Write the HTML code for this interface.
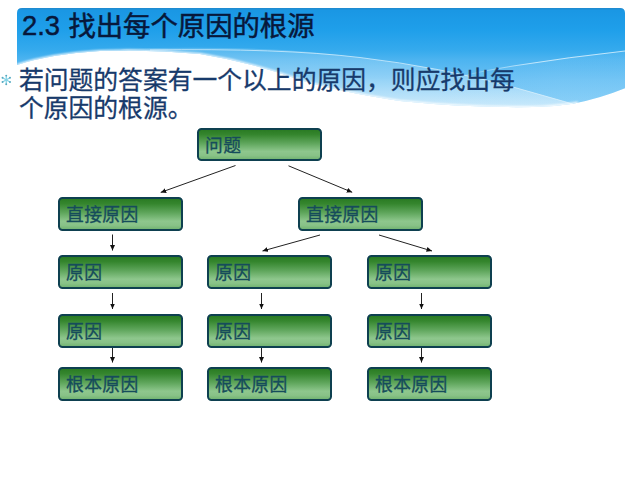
<!DOCTYPE html>
<html lang="zh-CN">
<head>
<meta charset="utf-8">
<title>2.3 找出每个原因的根源</title>
<style>
  html, body { margin: 0; padding: 0; }
  body {
    width: 640px; height: 480px; overflow: hidden; position: relative;
    background: #ffffff;
    font-family: "Liberation Sans", "Noto Sans CJK SC", sans-serif;
  }
  #bg { position: absolute; left: 0; top: 0; width: 640px; height: 480px; }
  .title {
    position: absolute; left: 22px; top: 11.3px; margin: 0;
    font-size: 27.35px; line-height: 32px; font-weight: 400; -webkit-text-stroke: 0.5px #07183b;
    color: #07183b; white-space: nowrap; word-spacing: 0.8px;
  }
  .title .num { position: relative; top: -1.4px;
  }
  .body {
    position: absolute; left: 18.9px; top: 66.5px; margin: 0;
    font-size: 24.8px; line-height: 28.5px; font-weight: 400; -webkit-text-stroke: 0.3px #173a6b; color: #173a6b; white-space: nowrap;
  }
  .box {
    position: absolute; box-sizing: border-box;
    width: 124.5px; height: 33.6px;
    border: 2px solid #0e4050; border-radius: 4.5px;
    background: linear-gradient(to bottom, #2a7b23 0%, #35862e 16%, #5fa65c 46%, #8ec78d 74%, #88c287 88%, #74b573 100%);
    color: #164c5b; font-size: 17.8px; letter-spacing: 0.35px; line-height: 32px; -webkit-text-stroke: 0.3px #164c5b;
    padding-left: 6px; white-space: nowrap;
  }
</style>
</head>
<body>
<svg id="bg" width="640" height="480" viewBox="0 0 640 480">
  <defs>
    <linearGradient id="sky" gradientUnits="userSpaceOnUse" x1="0" y1="8" x2="0" y2="108">
      <stop offset="0" stop-color="#2088cc"/>
      <stop offset="0.025" stop-color="#1a97e4"/>
      <stop offset="0.22" stop-color="#1f9fea"/>
      <stop offset="0.42" stop-color="#35aaed"/>
      <stop offset="0.52" stop-color="#4db4f0"/>
      <stop offset="0.72" stop-color="#6bc1f4"/>
      <stop offset="0.92" stop-color="#80cbf6"/>
      <stop offset="1" stop-color="#8ad0f7"/>
    </linearGradient>
    <linearGradient id="fadeL" gradientUnits="userSpaceOnUse" x1="440" y1="0" x2="535" y2="0">
      <stop offset="0" stop-color="#e4f5fe" stop-opacity="0"/>
      <stop offset="0.7" stop-color="#e4f5fe" stop-opacity="0.7"/>
      <stop offset="1" stop-color="#e4f5fe" stop-opacity="1"/>
    </linearGradient>
    <linearGradient id="fadeB" gradientUnits="userSpaceOnUse" x1="430" y1="0" x2="560" y2="0">
      <stop offset="0" stop-color="#a8dcfb" stop-opacity="0"/>
      <stop offset="1" stop-color="#a8dcfb" stop-opacity="1"/>
    </linearGradient>
    <linearGradient id="band1" gradientUnits="userSpaceOnUse" x1="0" y1="46" x2="0" y2="108">
      <stop offset="0" stop-color="#ffffff" stop-opacity="0.16"/>
      <stop offset="0.5" stop-color="#ffffff" stop-opacity="0.26"/>
      <stop offset="1" stop-color="#ffffff" stop-opacity="0.58"/>
    </linearGradient>
    <filter id="soft" x="-5%" y="-50%" width="110%" height="200%"><feGaussianBlur stdDeviation="1.1"/></filter>
    <clipPath id="panel">
      <path d="M17 13 Q17 8 22 8 L620 8 Q625 8 625 13 L625 88.3 Q600 98.5 573 103.8 Q553 107 533 107 Q470 108 400 101 Q340 92 300 80 Q250 62 200 54 Q150 49 100 51 Q50 54 17 65 Z"/>
    </clipPath>
    <marker id="ah" viewBox="0 0 5.5 5" refX="5.5" refY="2.5" markerWidth="5.5" markerHeight="5" orient="auto" markerUnits="userSpaceOnUse">
      <path d="M0 0 L5.5 2.5 L0 5 Z" fill="#111"/>
    </marker>
  </defs>
  <g clip-path="url(#panel)">
    <rect x="0" y="0" width="640" height="120" fill="url(#sky)"/>
    <!-- lighter wave bands -->
    <path d="M120 49 Q260 44 360 57.5 Q450 69 513 87 Q560 100 600 112 L300 120 Q230 70 120 49 Z" fill="url(#band1)"/>
    <path d="M400 93 Q470 72 513 66 Q570 56 625 51 L625 120 L400 120 Z" fill="url(#fadeB)" opacity="0.14"/>
    <!-- thin wave lines -->
    <path d="M150 50 Q280 48 360 57.5 Q440 67 513 87 Q545 96 573 104" fill="none" stroke="#e4f5fe" stroke-width="0.9" opacity="0.75"/>
    <path d="M400 93 Q460 74 513 66 Q570 57 625 51" fill="none" stroke="url(#fadeL)" stroke-width="0.9" opacity="0.85"/>
    <!-- soft lower edge -->
    <path d="M578 103 Q553 107.5 533 107.5 Q470 108.5 400 101.5 Q340 92.5 300 80.5 Q250 62.5 200 54.5 Q150 49.5 100 51.5 Q50 54.5 17 65.5" fill="none" stroke="#ffffff" stroke-width="3" filter="url(#soft)" opacity="0.9"/>
  </g>
  <!-- bullet -->
  <g stroke="#84d3e6" stroke-width="1.25" stroke-linecap="round"><line x1="6.25" y1="75.60" x2="6.25" y2="84.20"/><line x1="2.53" y1="77.75" x2="9.97" y2="82.05"/><line x1="9.97" y1="77.75" x2="2.53" y2="82.05"/></g>
  <g fill="#58a9bf"><circle cx="6.25" cy="75.60" r="0.95"/><circle cx="6.25" cy="84.20" r="0.95"/><circle cx="2.53" cy="77.75" r="0.95"/><circle cx="9.97" cy="82.05" r="0.95"/><circle cx="9.97" cy="77.75" r="0.95"/><circle cx="2.53" cy="82.05" r="0.95"/></g>
  <!-- arrows -->
  <g stroke="#222" stroke-width="1" fill="none">
    <line x1="235.5" y1="165.5" x2="160.7" y2="192.4" marker-end="url(#ah)"/>
    <line x1="288.5" y1="165.8" x2="352.2" y2="192.3" marker-end="url(#ah)"/>
    <line x1="320" y1="235" x2="262.5" y2="251" marker-end="url(#ah)"/>
    <line x1="379" y1="235" x2="432" y2="251" marker-end="url(#ah)"/>
    <line x1="112.5" y1="234.5" x2="112.5" y2="250.5" marker-end="url(#ah)"/>
    <line x1="112.5" y1="293" x2="112.5" y2="309" marker-end="url(#ah)"/>
    <line x1="112.5" y1="347.5" x2="112.5" y2="362.5" marker-end="url(#ah)"/>
    <line x1="261.5" y1="293" x2="261.5" y2="309" marker-end="url(#ah)"/>
    <line x1="261.5" y1="347.5" x2="261.5" y2="362.5" marker-end="url(#ah)"/>
    <line x1="421.5" y1="293" x2="421.5" y2="309" marker-end="url(#ah)"/>
    <line x1="421.5" y1="347.5" x2="421.5" y2="362.5" marker-end="url(#ah)"/>
  </g>
</svg>

<h1 class="title"><span class="num">2.3</span> 找出每个原因的根源</h1>
<p class="body">若问题的答案有一个以上的原因，则应找出每<br>个原因的根源。</p>

<div class="box" style="left:197px; top:127.5px;">问题</div>

<div class="box" style="left:58px;  top:197px;">直接原因</div>
<div class="box" style="left:298px; top:197px;">直接原因</div>

<div class="box" style="left:58px;  top:255px;">原因</div>
<div class="box" style="left:207px; top:255px;">原因</div>
<div class="box" style="left:367px; top:255px;">原因</div>

<div class="box" style="left:58px;  top:314px;">原因</div>
<div class="box" style="left:207px; top:314px;">原因</div>
<div class="box" style="left:367px; top:314px;">原因</div>

<div class="box" style="left:58px;  top:367.25px;">根本原因</div>
<div class="box" style="left:207px; top:367.25px;">根本原因</div>
<div class="box" style="left:367px; top:367.25px;">根本原因</div>
</body>
</html>
